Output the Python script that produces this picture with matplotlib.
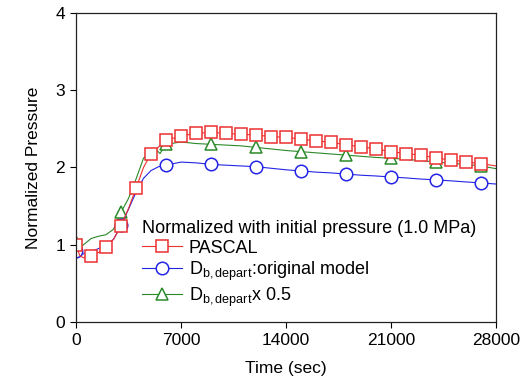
import numpy as np
import matplotlib
matplotlib.use('Agg')
import matplotlib.pyplot as plt

plt.rcParams['font.family'] = ['Liberation Sans', 'DejaVu Sans']
plt.rcParams['mathtext.fontset'] = 'custom'
plt.rcParams['mathtext.rm'] = 'Liberation Sans'
plt.rcParams['mathtext.it'] = 'Liberation Sans'

################# data ################################
# PASCAL (red)
t_pascal = [0, 250, 500, 1000, 1500, 2000, 2500, 3000, 3500, 4000, 4500, 5000,
            6000, 7000, 8000, 9000, 10000, 11000, 12000, 13000, 14000, 15000,
            16000, 17000, 18000, 19000, 20000, 21000, 22000, 23000, 24000,
            25000, 26000, 27000, 28000]
p_pascal = [1.00, 0.86, 0.83, 0.856, 0.90, 0.97, 1.07, 1.245, 1.47, 1.73, 2.00, 2.18,
            2.35, 2.41, 2.44, 2.456, 2.44, 2.43, 2.42, 2.40, 2.39, 2.37,
            2.34, 2.33, 2.29, 2.27, 2.24, 2.205, 2.18, 2.16, 2.12,
            2.10, 2.07, 2.05, 2.02]
mk_pascal = list(range(0, 28000, 1000))

# D_b,depart original model (blue)
t_orig = [0, 500, 1000, 1500, 2000, 2500, 3000, 3500, 4000, 4500, 5000, 5500,
          6000, 7000, 8000, 9000, 10000, 11000, 12000, 13000, 14000, 15000,
          16000, 17000, 18000, 19000, 20000, 21000, 22000, 23000, 24000,
          25000, 26000, 27000, 28000]
p_orig = [0.92, 0.88, 0.91, 0.95, 0.99, 1.07, 1.25, 1.46, 1.68, 1.86, 1.96, 2.01,
          2.03, 2.07, 2.06, 2.04, 2.03, 2.02, 2.01, 1.99, 1.97, 1.955,
          1.94, 1.93, 1.915, 1.90, 1.89, 1.877, 1.865, 1.85, 1.84,
          1.827, 1.813, 1.80, 1.786]
mk_orig = list(range(0, 28000, 3000))

# D_b,depart x 0.5 (green)
t_half = [0, 250, 500, 1000, 1500, 2000, 2500, 3000, 3500, 4000, 4500, 5000,
          5300, 5600, 6000, 7000, 8000, 9000, 10000, 11000, 12000, 13000,
          14000, 15000, 16000, 17000, 18000, 19000, 20000, 21000, 22000,
          23000, 24000, 25000, 26000, 27000, 28000]
p_half = [1.03, 0.96, 1.00, 1.08, 1.11, 1.13, 1.20, 1.42, 1.60, 1.85, 2.12, 2.22,
          2.24, 2.18, 2.30, 2.33, 2.31, 2.30, 2.29, 2.28, 2.26, 2.24,
          2.22, 2.205, 2.19, 2.175, 2.16, 2.145, 2.13, 2.12, 2.105,
          2.09, 2.07, 2.055, 2.04, 2.02, 1.985]
mk_half = list(range(0, 28000, 3000))

x_ticks = [0, 7000, 14000, 21000, 28000]
y_ticks = [0, 1, 2, 3, 4]

################# plot ################################
fig = plt.figure(figsize=(5.29, 3.81), dpi=100)
ax = fig.add_axes([0.1437, 0.1549, 0.7939, 0.811])

series = [
    (t_half, p_half, mk_half, '#2a8a2a', '^', r'D$_{\mathrm{b,depart}}$x 0.5'),
    (t_orig, p_orig, mk_orig, '#2424e6', 'o', r'D$_{\mathrm{b,depart}}$:original model'),
    (t_pascal, p_pascal, mk_pascal, '#ec3030', 's', 'PASCAL'),
]
handles = {}
for t, p, mk, c, m, lab in series:
    idx = [i for i, v in enumerate(t) if v in mk]
    h, = ax.plot(t, p, color=c, lw=0.8, marker=m, markevery=idx,
                 ms=9 if m != 's' else 8, mfc='white', mec=c, mew=1.1,
                 label=lab)
    handles[lab] = h

order = ['PASCAL', r'D$_{\mathrm{b,depart}}$:original model', r'D$_{\mathrm{b,depart}}$x 0.5']
leg = ax.legend([handles[k] for k in order], order,
                title='Normalized with initial pressure (1.0 MPa)',
                loc='lower left', bbox_to_anchor=(0.14, 0.02), frameon=False,
                fontsize=13, title_fontsize=13, alignment='left',
                handlelength=2.2, handletextpad=0.4, labelspacing=0.15,
                borderaxespad=0.2, borderpad=0.2)

ax.set_xlim(0, 28000)
ax.set_ylim(0, 4)
ax.set_xticks(x_ticks)
ax.set_yticks(y_ticks)
ax.tick_params(direction='out', length=4, width=0.8, labelsize=12.5, pad=4)
for s in ax.spines.values():
    s.set_linewidth(0.9)
    s.set_color('#222222')
ax.set_xlabel('Time (sec)', fontsize=12.5, labelpad=9)
ax.set_ylabel('Normalized Pressure', fontsize=12.5, labelpad=10)

plt.savefig('out.png', dpi=100)
